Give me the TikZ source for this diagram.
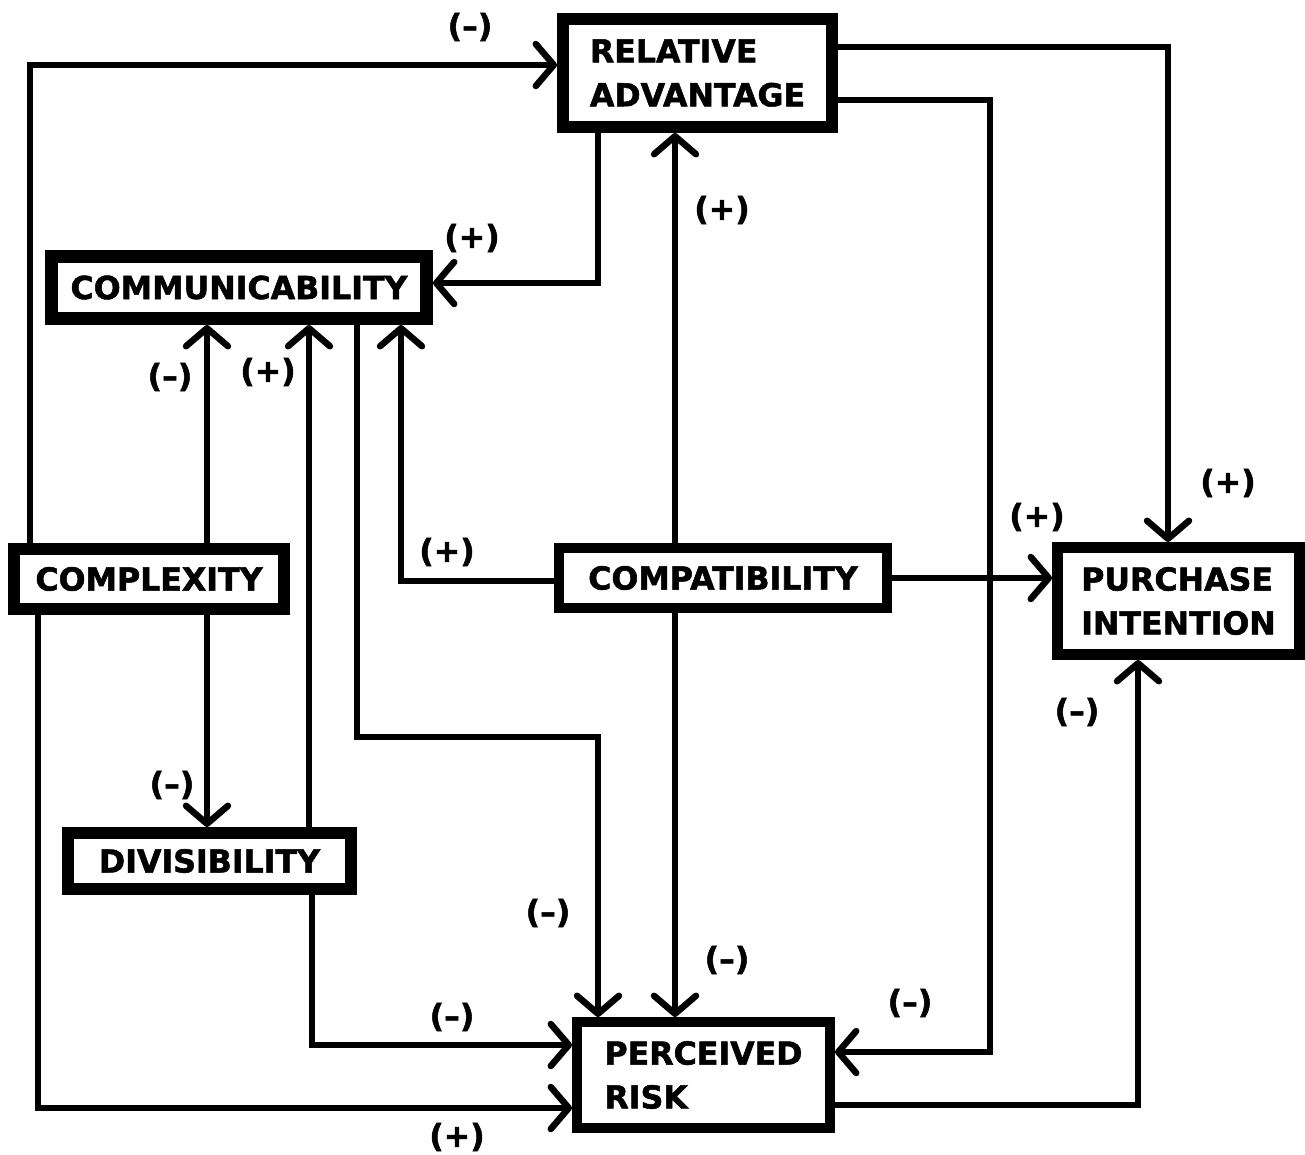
\documentclass[tikz,border=0pt]{standalone}
\usepackage{fontspec}
\setmainfont{DejaVu Sans}
\newfontfamily\heavyfont{DejaVu Sans Bold}[FakeBold=1.6]
\usetikzlibrary{arrows.meta}
\tikzset{
  box/.style={draw, rectangle, inner sep=0pt, align=left,
    font=\heavyfont\fontsize{18}{25}\selectfont},
  conn/.style={line width=0.13cm, line join=miter,
    -{Straight Barb[length=0.36cm, width=0.84cm, round]}},
  lbl/.style={font=\heavyfont\fontsize{18}{20}\selectfont, inner sep=0pt}
}
\begin{document}
\begin{tikzpicture}[x=0.02cm, y=-0.02cm]
\useasboundingbox (0,0) rectangle (1305,1154);
% boxes
\node[box, line width=0.24cm, minimum width=5.38cm, minimum height=2.16cm] (ra) at (697.5,73) {RELATIVE\\ADVANTAGE};
\node[box, line width=0.26cm, minimum width=7.5cm, minimum height=1.24cm] (comm) at (239,287.5) {COMMUNICABILITY};
\node[box, line width=0.24cm, minimum width=5.4cm, minimum height=1.2cm] (cplx) at (149,579) {COMPLEXITY};
\node[box, line width=0.2cm, minimum width=6.56cm, minimum height=1.2cm] (cpat) at (723,578) {COMPATIBILITY};
\node[box, line width=0.22cm, minimum width=4.84cm, minimum height=2.14cm] (pi) at (1178.5,601) {PURCHASE\\INTENTION};
\node[box, line width=0.24cm, minimum width=5.66cm, minimum height=1.12cm] (div) at (209.5,861) {DIVISIBILITY};
\node[box, line width=0.2cm, minimum width=5.06cm, minimum height=2.12cm] (pr) at (703.5,1075) {PERCEIVED\\RISK};
% connectors
\draw[conn] (30,0 |- cplx.north) |- (ra.west |- 0,65);
\draw[conn] (ra.east |- 0,47) -| (1168,0 |- pi.north);
\draw[conn] (ra.east |- 0,100) -| (990,1052) -- (pr.east |- 0,1052);
\draw[conn] (598,0 |- ra.south) |- (comm.east |- 0,283);
\draw[conn] (675,0 |- cpat.north) -- (675,0 |- ra.south);
\draw[conn] (cpat.west |- 0,581) -| (401,0 |- comm.south);
\draw[conn] (cpat.east |- 0,578) -- (pi.west |- 0,578);
\draw[conn] (675,0 |- cpat.south) -- (675,0 |- pr.north);
\draw[conn] (207,0 |- cplx.north) -- (207,0 |- comm.south);
\draw[conn] (309,0 |- div.north) -- (309,0 |- comm.south);
\draw[conn] (357,0 |- comm.south) |- (598,737) -- (598,0 |- pr.north);
\draw[conn] (207,0 |- cplx.south) -- (207,0 |- div.north);
\draw[conn] (312,0 |- div.south) |- (pr.west |- 0,1045);
\draw[conn] (38,0 |- cplx.south) |- (pr.west |- 0,1108);
\draw[conn] (pr.east |- 0,1105) -| (1138,0 |- pi.south);
% labels
\node[lbl] (l1) at (470,27) {(–)};
\node[lbl] (l2) at (1228,483) {(+)};
\node[lbl] (l3) at (910,1003) {(–)};
\node[lbl] (l4) at (472,238) {(+)};
\node[lbl] (l5) at (722,210) {(+)};
\node[lbl] (l6) at (447,552) {(+)};
\node[lbl] (l7) at (1037,517) {(+)};
\node[lbl] (l8) at (727,960) {(–)};
\node[lbl] (l9) at (170,377) {(–)};
\node[lbl] (l10) at (268,372) {(+)};
\node[lbl] (l11) at (548,913) {(–)};
\node[lbl] (l12) at (172,785) {(–)};
\node[lbl] (l13) at (452,1017) {(–)};
\node[lbl] (l14) at (457,1137) {(+)};
\node[lbl] (l15) at (1077,712) {(–)};
\end{tikzpicture}
\end{document}
